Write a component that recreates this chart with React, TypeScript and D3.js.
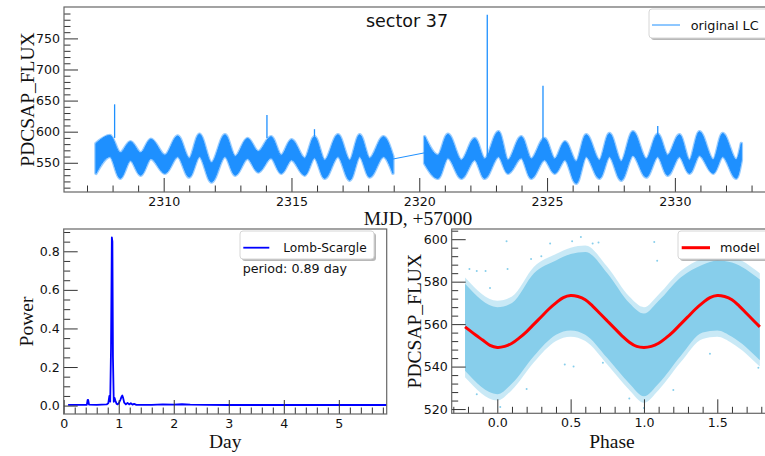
import { useEffect, useRef } from 'react';
import * as d3 from 'd3';

const W = 765;
const H = 456;

// light curve, first orbit: envelope read at every crest / trough (MJD-57000, PDCSAP_FLUX)
const lcTimeA = [2307.35, 2307.9, 2308.3, 2308.7, 2309.1, 2309.5, 2310.05, 2310.55, 2311.0, 2311.4, 2311.87, 2312.4, 2312.8, 2313.28, 2313.7, 2314.2, 2314.6, 2315.0, 2315.52, 2315.9, 2316.3, 2316.82, 2317.28, 2317.67, 2318.06, 2318.6, 2318.97];
const lcUpperA = [581, 594, 566, 584, 566, 588, 562, 593, 557, 596, 550, 595, 560, 589, 568, 592, 562, 587, 557, 592, 554, 595, 554, 595, 557, 592, 560];
const lcLowerA = [533, 560, 525, 554, 530, 557, 533, 560, 527, 560, 519, 560, 530, 557, 535, 558, 533, 555, 530, 558, 525, 560, 522, 560, 527, 560, 533];
// second orbit
const lcTimeB = [2320.21, 2320.73, 2321.12, 2321.65, 2322.17, 2322.56, 2323.1, 2323.47, 2323.99, 2324.38, 2324.9, 2325.3, 2325.7, 2326.14, 2326.53, 2327.05, 2327.44, 2327.9, 2328.36, 2328.88, 2329.33, 2329.72, 2330.18, 2330.57, 2330.96, 2331.5, 2331.87, 2332.4, 2332.6];
const lcUpperB = [592, 562, 596, 554, 589, 556, 600, 554, 592, 556, 589, 556, 584, 552, 595, 554, 597, 552, 600, 556, 596, 562, 595, 554, 600, 555, 597, 555, 581];
const lcLowerB = [549, 525, 558, 525, 555, 525, 560, 533, 558, 525, 555, 533, 555, 517, 560, 525, 560, 522, 562, 527, 560, 530, 560, 533, 562, 533, 560, 525, 554];
// line across the data gap
const gapTime = [2318.97, 2320.21];
const gapFlux = [556, 566];
// flares
const spikeTime = [2308.08, 2314.04, 2315.9, 2322.66, 2324.84, 2329.33];
const spikeBase = [590, 590, 592, 560, 575, 596];
const spikeTop = [644, 627, 604, 788, 674, 609];

// Lomb-Scargle periodogram
const lsPeriod = [0.08, 0.3, 0.42, 0.435, 0.445, 0.46, 0.6, 0.78, 0.81, 0.83, 0.845, 0.86, 0.875, 0.885, 0.895, 0.91, 0.925, 0.94, 0.96, 0.98, 1.0, 1.03, 1.05, 1.065, 1.08, 1.1, 1.13, 1.16, 1.19, 1.22, 1.25, 1.28, 1.32, 1.4, 1.6, 1.8, 2.0, 2.15, 2.3, 2.6, 3.0, 4.0, 5.0, 5.87];
const lsPower = [0.004, 0.004, 0.004, 0.03, 0.03, 0.005, 0.004, 0.006, 0.012, 0.05, 0.02, 0.3, 0.872, 0.85, 0.25, 0.02, 0.04, 0.025, 0.01, 0.006, 0.012, 0.03, 0.045, 0.052, 0.04, 0.015, 0.006, 0.014, 0.006, 0.012, 0.005, 0.009, 0.004, 0.004, 0.004, 0.006, 0.005, 0.007, 0.005, 0.004, 0.003, 0.003, 0.003, 0.003];

// folded light curve: extent of the point cloud
const foldPhase = [-0.22, 0, 0.1, 0.25, 0.4, 0.5, 0.6, 0.75, 0.9, 1.0, 1.1, 1.25, 1.4, 1.5, 1.6, 1.79];
const foldOuterUp = [582, 571, 573, 587, 593, 596, 597, 587, 573, 568, 574, 585, 591, 593, 592, 584];
const foldOuterLo = [535, 524, 529, 542, 552, 554, 552, 541, 529, 523, 529, 542, 553, 554, 551, 540];
const foldInnerUp = [579, 568, 570, 584, 590, 593, 594, 584, 570, 565, 571, 582, 588, 590, 589, 581];
const foldInnerLo = [538, 527, 532, 545, 555, 557, 555, 544, 532, 526, 532, 545, 556, 557, 554, 543];
// stray points outside the cloud
const strayPhase = [0.063, -0.14, -0.08, 0.36, 0.51, 0.57, 0.69, 0.52, 0.2, -0.19, 0.07, 0.23, 0.72, 1.515, 1.63, 1.07, 1.09, 1.2, 0.46, 1.78, -0.14, 0.65, 1.3, 0.9, 1.45, 0.3, -0.05, 1.0, 0.02];
const strayFlux = [599, 585, 585, 598, 599, 601, 598.5, 540, 529.5, 586, 586, 590.7, 541.8, 600.7, 603, 598.7, 589.8, 529, 541, 539.5, 527, 598, 592, 525, 546, 592, 577, 520.5, 521];

// model curve
const modelPhase = [-0.22, -0.15, -0.1, -0.05, 0, 0.05, 0.1, 0.15, 0.2, 0.25, 0.3, 0.35, 0.4, 0.45, 0.5, 0.55, 0.6, 0.65, 0.7, 0.75, 0.8, 0.85, 0.9, 0.95, 1.0, 1.05, 1.1, 1.15, 1.2, 1.25, 1.3, 1.35, 1.4, 1.45, 1.5, 1.55, 1.6, 1.65, 1.7, 1.75, 1.79];
const modelFlux = [558.7, 555, 552.5, 550, 549, 549.5, 551, 553.5, 556.5, 560, 563.5, 567, 570, 572.5, 573.5, 573, 571.5, 568.5, 565, 561.5, 558, 554.5, 551.5, 549.5, 549, 549.5, 551, 553.5, 556.5, 560, 563.5, 567, 570, 572.5, 573.5, 573, 571.5, 568.5, 565, 561.5, 558.7];

// ticks
const lcXTicks = [2310, 2315, 2320, 2325, 2330];
const lcYTicks = [550, 600, 650, 700, 750];
const lsXTicks = [0, 1, 2, 3, 4, 5];
const lsYTicks = [0, 0.2, 0.4, 0.6, 0.8];
const foldXTicks = [0, 0.5, 1, 1.5];
const foldYTicks = [520, 540, 560, 580, 600];

const SANS = 'DejaVu Sans, sans-serif';
const SERIF = 'Liberation Serif, Times New Roman, serif';

function minors(start: number, stop: number, step: number, majors: number[]) {
  return d3.range(start, stop + step / 2, step)
    .map(v => +v.toFixed(4))
    .filter(v => !majors.some(m => Math.abs(m - v) < step / 10));
}

function drawAxes(g: any, x: any, y: any, xMajor: number[], xMinor: number[], yMajor: number[], yMinor: number[], xFmt: any, yFmt: any) {
  const [x0, x1] = x.range();
  const [yb, yt] = y.range();
  const style = (sel: any) => {
    sel.select('.domain').remove();
    sel.attr('font-family', SANS).attr('font-size', 12.6);
    sel.selectAll('.tick line').attr('stroke', '#333').attr('stroke-width', 1);
    sel.selectAll('.tick text').attr('fill', '#111');
  };
  g.append('g').attr('transform', `translate(0,${yb})`)
    .call(d3.axisBottom(x).tickValues(xMinor).tickSize(-6.5).tickFormat(() => '')).call(style);
  g.append('g').attr('transform', `translate(0,${yb})`)
    .call(d3.axisBottom(x).tickValues(xMajor).tickSize(-14).tickPadding(5).tickFormat(xFmt)).call(style);
  g.append('g').attr('transform', `translate(${x0},0)`)
    .call(d3.axisLeft(y).tickValues(yMinor).tickSize(-6.5).tickFormat(() => '')).call(style);
  g.append('g').attr('transform', `translate(${x0},0)`)
    .call(d3.axisLeft(y).tickValues(yMajor).tickSize(-14).tickPadding(4).tickFormat(yFmt)).call(style);
  g.append('rect')
    .attr('x', x0).attr('y', yt).attr('width', x1 - x0).attr('height', yb - yt)
    .attr('fill', 'none').attr('stroke', '#666').attr('stroke-width', 1.2);
}

function legendBox(g: any, x: number, y: number, w: number, h: number) {
  g.append('rect').attr('x', x + 2).attr('y', y + 2).attr('width', w).attr('height', h)
    .attr('rx', 3).attr('fill', '#888').attr('opacity', 0.6);
  g.append('rect').attr('x', x).attr('y', y).attr('width', w).attr('height', h)
    .attr('rx', 3).attr('fill', '#fff').attr('stroke', '#d6d6d6').attr('stroke-width', 1);
}

const App = () => {
  const ref = useRef<SVGSVGElement>(null);

  useEffect(() => {
    const svg = d3.select(ref.current);
    svg.selectAll('*').remove();

    // ---------- top: light curve ----------
    const xLc = d3.scaleLinear().domain([2306.1, 2333.8]).range([64, 772]);
    const yLc = d3.scaleLinear().domain([503, 800.5]).range([192, 7]);
    const top = svg.append('g');

    const segs = [
      lcTimeA.map((t, i) => ({ t, hi: lcUpperA[i], lo: lcLowerA[i] })),
      lcTimeB.map((t, i) => ({ t, hi: lcUpperB[i], lo: lcLowerB[i] })),
    ];
    const band = d3.area<any>().x(d => xLc(d.t)).y0(d => yLc(d.lo)).y1(d => yLc(d.hi)).curve(d3.curveMonotoneX);
    segs.forEach(s => {
      // soft fringe, then the solid band
      top.append('path').attr('d', band(s)).attr('fill', 'none')
        .attr('stroke', '#1e90ff').attr('stroke-opacity', 0.45).attr('stroke-width', 3.5).attr('stroke-linejoin', 'round');
      top.append('path').attr('d', band(s)).attr('fill', '#1e90ff')
        .attr('stroke', '#1e90ff').attr('stroke-width', 1).attr('stroke-linejoin', 'round');
    });
    top.append('path')
      .attr('d', d3.line<number>().x(d => xLc(d)).y((d, i) => yLc(gapFlux[i]))(gapTime))
      .attr('stroke', '#1e90ff').attr('stroke-width', 1).attr('fill', 'none');
    spikeTime.forEach((t, i) => {
      top.append('line').attr('x1', xLc(t)).attr('x2', xLc(t))
        .attr('y1', yLc(spikeBase[i])).attr('y2', yLc(spikeTop[i]))
        .attr('stroke', '#1e90ff').attr('stroke-width', 1.3);
    });
    drawAxes(top, xLc, yLc, lcXTicks, minors(2307, 2333, 1, lcXTicks), lcYTicks, minors(510, 790, 10, lcYTicks), d3.format('d'), d3.format('d'));

    top.append('text').attr('x', 407).attr('y', 27).attr('text-anchor', 'middle')
      .attr('font-family', SANS).attr('font-size', 17.5).attr('fill', '#111').text('sector 37');
    legendBox(top, 649, 9, 130, 29);
    top.append('line').attr('x1', 652).attr('x2', 680).attr('y1', 25).attr('y2', 25)
      .attr('stroke', '#1e90ff').attr('stroke-width', 1);
    top.append('text').attr('x', 690.7).attr('y', 29.5).attr('font-family', SANS).attr('font-size', 12.8)
      .attr('fill', '#111').text('original LC');
    top.append('text').attr('transform', 'translate(34,99.5) rotate(-90)').attr('text-anchor', 'middle')
      .attr('font-family', SERIF).attr('font-size', 19.5).attr('fill', '#111').text('PDCSAP_FLUX');
    top.append('text').attr('x', 418).attr('y', 225).attr('text-anchor', 'middle')
      .attr('font-family', SERIF).attr('font-size', 19.5).attr('fill', '#111').text('MJD, +57000');

    // ---------- bottom-left: periodogram ----------
    const xLs = d3.scaleLinear().domain([0, 5.87]).range([63.7, 386.7]);
    const yLs = d3.scaleLinear().domain([-0.0436, 0.9156]).range([414, 229]);
    const ls = svg.append('g');
    ls.append('path')
      .attr('d', d3.line<number>().x(d => xLs(d)).y((d, i) => yLs(lsPower[i]))(lsPeriod))
      .attr('fill', 'none').attr('stroke', '#0000ff').attr('stroke-width', 1.8).attr('stroke-linejoin', 'round');
    drawAxes(ls, xLs, yLs, lsXTicks, minors(0, 5.8, 0.2, lsXTicks), lsYTicks, minors(0, 0.9, 0.05, lsYTicks), d3.format('d'), d3.format('.1f'));
    legendBox(ls, 240, 231, 134, 28);
    ls.append('line').attr('x1', 243.3).attr('x2', 269.3).attr('y1', 247.7).attr('y2', 247.7)
      .attr('stroke', '#0000ff').attr('stroke-width', 1.8);
    ls.append('text').attr('x', 283.3).attr('y', 252).attr('font-family', SANS).attr('font-size', 12.2)
      .attr('fill', '#111').text('Lomb-Scargle');
    ls.append('text').attr('x', 242.7).attr('y', 273).attr('font-family', SANS).attr('font-size', 12.7)
      .attr('fill', '#111').text('period: 0.89 day');
    ls.append('text').attr('transform', 'translate(33,321.5) rotate(-90)').attr('text-anchor', 'middle')
      .attr('font-family', SERIF).attr('font-size', 19.5).attr('fill', '#111').text('Power');
    ls.append('text').attr('x', 225.2).attr('y', 448).attr('text-anchor', 'middle')
      .attr('font-family', SERIF).attr('font-size', 19.5).attr('fill', '#111').text('Day');

    // ---------- bottom-right: folded light curve ----------
    const xPh = d3.scaleLinear().domain([-0.311, 1.873]).range([451.7, 772]);
    const yPh = d3.scaleLinear().domain([518, 604.8]).range([413.3, 229]);
    const ph = svg.append('g');
    const cloud = (up: number[], lo: number[]) =>
      d3.area<number>().x(d => xPh(d)).y0((d, i) => yPh(lo[i])).y1((d, i) => yPh(up[i])).curve(d3.curveMonotoneX)(foldPhase);
    ph.append('path').attr('d', cloud(foldOuterUp, foldOuterLo)).attr('fill', '#87ceeb').attr('opacity', 0.45);
    ph.append('path').attr('d', cloud(foldInnerUp, foldInnerLo)).attr('fill', '#87ceeb');
    strayPhase.forEach((p, i) => {
      ph.append('circle').attr('cx', xPh(p)).attr('cy', yPh(strayFlux[i])).attr('r', 1).attr('fill', '#87ceeb');
    });
    ph.append('path')
      .attr('d', d3.line<number>().x(d => xPh(d)).y((d, i) => yPh(modelFlux[i])).curve(d3.curveCatmullRom)(modelPhase))
      .attr('fill', 'none').attr('stroke', '#ff0000').attr('stroke-width', 3);
    drawAxes(ph, xPh, yPh, foldXTicks, minors(-0.3, 1.8, 0.1, foldXTicks), foldYTicks, minors(520, 604, 4, foldYTicks), d3.format('.1f'), d3.format('d'));
    legendBox(ph, 678, 231, 100, 28);
    ph.append('line').attr('x1', 681.7).attr('x2', 710).attr('y1', 247.7).attr('y2', 247.7)
      .attr('stroke', '#ff0000').attr('stroke-width', 3);
    ph.append('text').attr('x', 720).attr('y', 252).attr('font-family', SANS).attr('font-size', 12.8)
      .attr('fill', '#111').text('model');
    ph.append('text').attr('transform', 'translate(421,321.2) rotate(-90)').attr('text-anchor', 'middle')
      .attr('font-family', SERIF).attr('font-size', 19.5).attr('fill', '#111').text('PDCSAP_FLUX');
    ph.append('text').attr('x', 612).attr('y', 448).attr('text-anchor', 'middle')
      .attr('font-family', SERIF).attr('font-size', 19.5).attr('fill', '#111').text('Phase');

    return () => { svg.selectAll('*').remove(); };
  }, []);

  return (
    <svg ref={ref} width={W} height={H}
      style={{ position: 'absolute', left: 0, top: 0, background: '#fff', display: 'block' }} />
  );
};

export default App;
